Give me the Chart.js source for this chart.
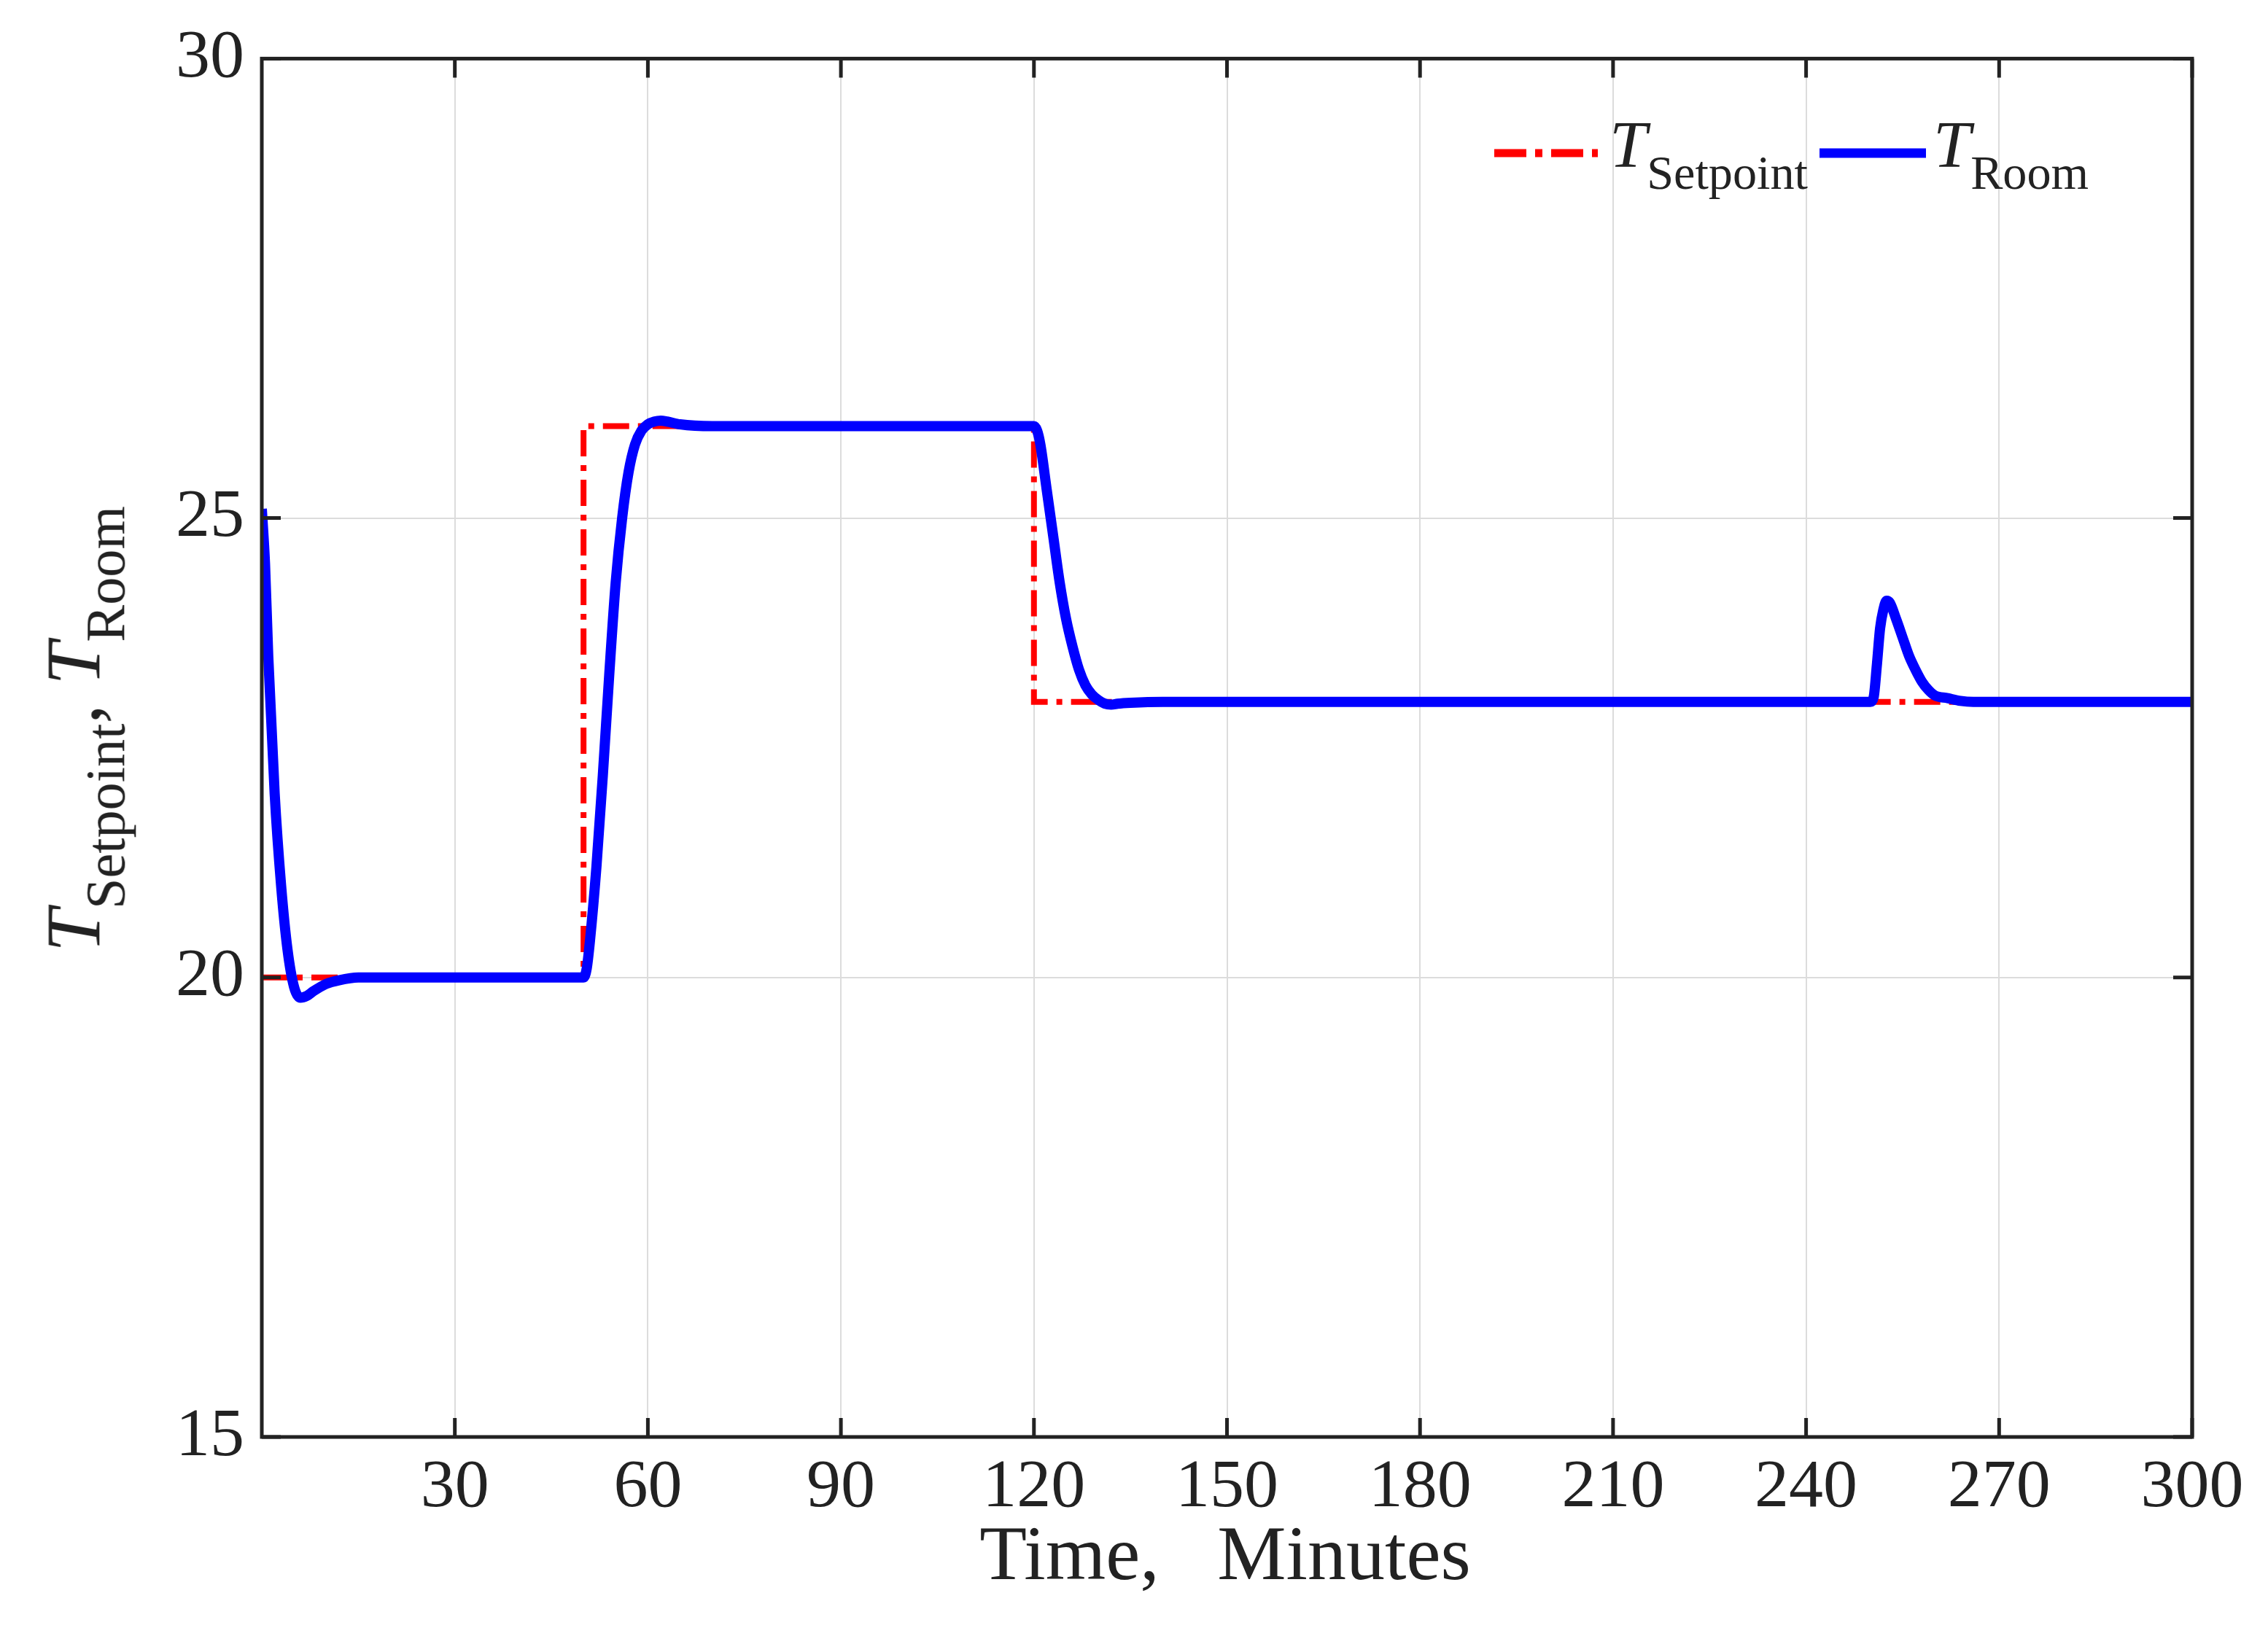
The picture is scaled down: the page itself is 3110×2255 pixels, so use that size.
<!DOCTYPE html>
<html><head><meta charset="utf-8">
<script src="https://cdn.jsdelivr.net/npm/chart.js@4"></script>
<style>
body{margin:0;background:#fff;font-family:"Liberation Serif",serif;}
#wrap{position:relative;width:3110px;height:2255px;}
.lab{position:absolute;color:#222;font-family:"Liberation Serif",serif;white-space:nowrap;}
sub{font-size:0.72em;vertical-align:-0.45em;}
i{font-style:italic;}
</style></head><body>
<div id="wrap">
<canvas id="c" width="3110" height="2255"></canvas>
<div class="lab" style="left:0;width:3110px;text-align:center;top:2070px;font-size:106px;padding-left:250px;box-sizing:border-box;">Time,&nbsp;&nbsp;&nbsp;Minutes</div>
<div class="lab" style="left:115px;top:1000px;font-size:106px;transform:translate(-50%,-50%) rotate(-90deg);"><i>T</i><sub>Setpoint</sub>, <i>T</i><sub>Room</sub></div>
<div class="lab" style="left:2045px;top:145px;font-size:92px;display:flex;align-items:center;">
 <svg width="150" height="20"><line x1="4" y1="10" x2="146" y2="10" stroke="#ff0000" stroke-width="11" stroke-dasharray="44,12,10,12"/></svg>
 <span style="margin-left:12px"><i>T</i><sub>Setpoint</sub></span>
 <svg width="150" height="20" style="margin-left:14px"><line x1="2" y1="10" x2="148" y2="10" stroke="#0000ff" stroke-width="13"/></svg>
 <span style="margin-left:8px"><i>T</i><sub>Room</sub></span>
</div>
</div>
<script>
const setTimes=[0,50,50,120,120,300];
const setVals=[20,20,26,26,23,23];
const roomTimes=[0,0.5,1,2,3,4,5,6,7,8,10,12,15,20,50,50.5,51,52,53,54,55,56,57,58,59,60,61,62,63,65,70,120,120.5,121,122,123,124,125,126,127,128,129,130,131,132,133,135,140,250,250.5,251,251.5,252,252.5,253,254,255,256,257,258,259,260,262,264,266,300];
const roomVals=[25.1,24.5,23.5,22,21,20.3,19.9,19.78,19.8,19.85,19.93,19.97,20,20,20,20.1,20.4,21.2,22.2,23.3,24.3,25,25.5,25.8,25.95,26.02,26.05,26.06,26.05,26.02,26,26,25.95,25.8,25.3,24.8,24.3,23.9,23.6,23.35,23.18,23.08,23.02,22.98,22.97,22.98,22.99,23,23,23.05,23.4,23.8,24.0,24.1,24.08,23.9,23.7,23.5,23.35,23.22,23.13,23.07,23.04,23.01,23,23,23];
const xTicks=[30,60,90,120,150,180,210,240,270,300];
const yTicks=[15,20,25,30];
const toPts=(t,v)=>t.map((x,i)=>({x:x,y:v[i]}));
const boxPlugin={id:'box',afterDraw(ch){const {ctx,chartArea:a,scales:s}=ch;ctx.save();ctx.strokeStyle='#222';ctx.lineWidth=5;
ctx.beginPath();
xTicks.forEach(t=>{const px=s.x.getPixelForValue(t);ctx.moveTo(px,a.bottom);ctx.lineTo(px,a.bottom-26);ctx.moveTo(px,a.top);ctx.lineTo(px,a.top+26);});
yTicks.forEach(t=>{const py=s.y.getPixelForValue(t);ctx.moveTo(a.left,py);ctx.lineTo(a.left+26,py);ctx.moveTo(a.right,py);ctx.lineTo(a.right-26,py);});
ctx.stroke();ctx.strokeRect(a.left,a.top,a.right-a.left,a.bottom-a.top);ctx.restore();}};
Chart.defaults.font.family='"Liberation Serif", serif';
new Chart(document.getElementById('c'),{type:'scatter',
data:{datasets:[
{data:toPts(setTimes,setVals),showLine:true,borderColor:'#ff0000',borderWidth:8,borderDash:[36,12,8,12],pointRadius:0,tension:0,order:2},
{data:toPts(roomTimes,roomVals),showLine:true,borderColor:'#0000ff',borderWidth:14,pointRadius:0,cubicInterpolationMode:'monotone',order:1}
]},
options:{responsive:false,animation:false,devicePixelRatio:1,
layout:{padding:{left:0,top:65,right:104,bottom:0}},
plugins:{legend:{display:false},tooltip:{enabled:false}},
scales:{
x:{type:'linear',min:0,max:300,afterBuildTicks:s=>{s.ticks=xTicks.map(v=>({value:v}));},
afterFit:s=>{s.height=284;},
grid:{color:'#dcdcdc',lineWidth:2,drawTicks:false},border:{display:false},
ticks:{color:'#222',font:{size:94},padding:14,maxRotation:0}},
y:{min:15,max:30,afterBuildTicks:s=>{s.ticks=yTicks.map(v=>({value:v}));},
afterFit:s=>{s.width=359;},
grid:{color:'#dcdcdc',lineWidth:2,drawTicks:false},border:{display:false},
ticks:{color:'#222',font:{size:94},padding:24}}
}},
plugins:[boxPlugin]});
</script>
</body></html>
